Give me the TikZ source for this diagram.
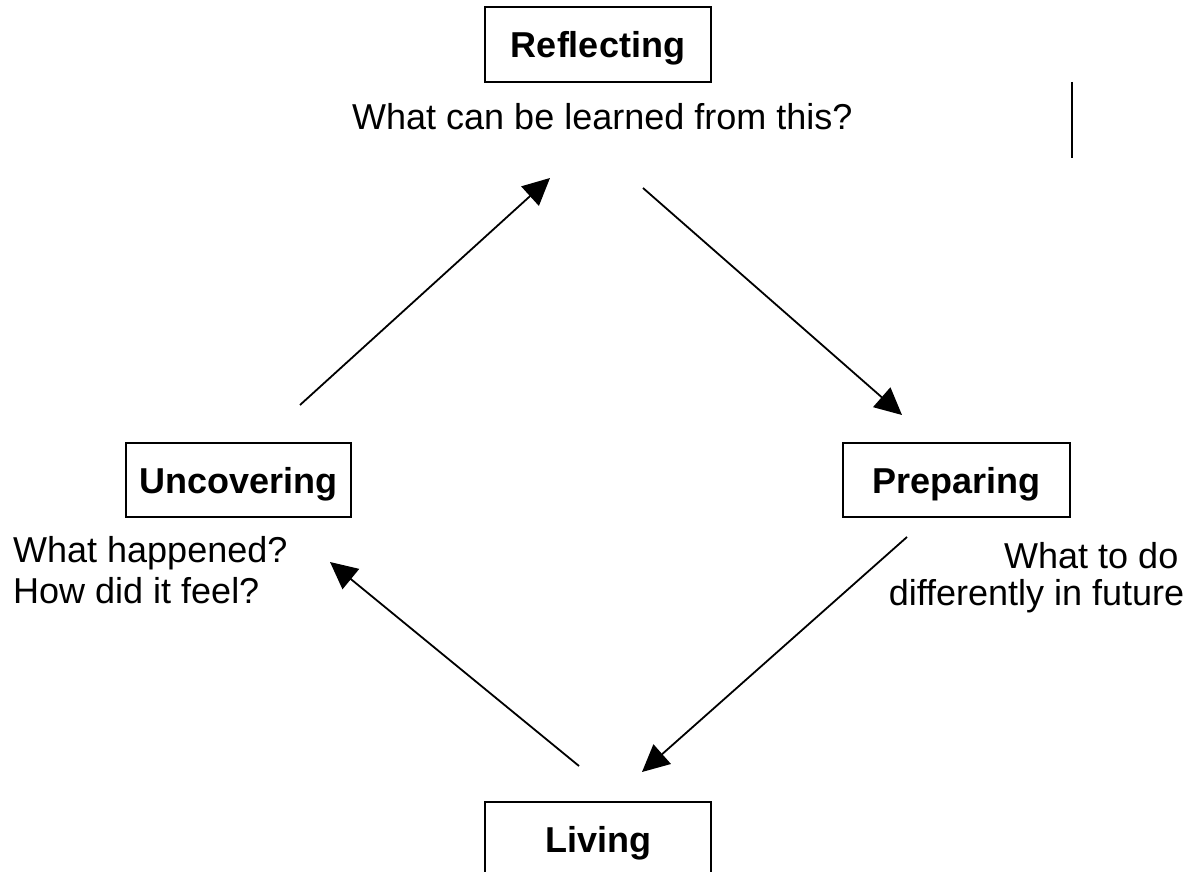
\documentclass[tikz,border=0pt]{standalone}
\usepackage{fontspec}
\setmainfont{Liberation Sans}
\usetikzlibrary{arrows.meta}
\begin{document}
\begin{tikzpicture}[x=1pt,y=-1pt,
  box/.style={draw, line width=2.3pt, inner sep=0pt,
    font=\fontsize{36}{43}\selectfont\bfseries, text height=26pt, text depth=0pt},
  txt/.style={inner sep=0pt, font=\fontsize{36}{43}\selectfont},
  conn/.style={line width=1.8pt, -{Triangle[length=27pt,width=26pt]}},
  mark line/.style={line width=2.5pt}]
\clip (0,0) rectangle (1195,872);
% boxes
\node[box, minimum width=226pt, minimum height=75pt] (refl) at (598,44.5) {Reflecting};
\node[box, minimum width=225pt, minimum height=74pt] (unc) at (238.5,480) {Uncovering};
\node[box, minimum width=227pt, minimum height=74pt] (prep) at (956.5,480) {Preparing};
\node[box, minimum width=226pt, minimum height=75pt] (liv) at (598,839.5) {Living};
% texts
\node[txt, anchor=base west] (q1) at (352,130) {What can be learned from this?};
\node[txt, anchor=base west] (q2) at (13,562) {What happened?};
\node[txt, anchor=base west] (q3) at (13,603) {How did it feel?};
\node[txt, anchor=base east] (q4) at (1178.5,568) {What to do};
\node[txt, anchor=base east] (q5) at (1184.5,605) {differently in future};
% arrow ends
\coordinate (u1) at (300,405); \coordinate (r1) at (550,178);
\coordinate (r2) at (643,188); \coordinate (p1) at (902,415);
\coordinate (p2) at (907,537); \coordinate (l1) at (642,772);
\coordinate (l2) at (579,766); \coordinate (u2) at (330,562);
\coordinate (v1) at (1072,82); \coordinate (v2) at (1072,158);
\draw[conn] (u1) -- (r1);
\draw[conn] (r2) -- (p1);
\draw[conn] (p2) -- (l1);
\draw[conn] (l2) -- (u2);
\draw[mark line] (v1) -- (v2);
\end{tikzpicture}
\end{document}
